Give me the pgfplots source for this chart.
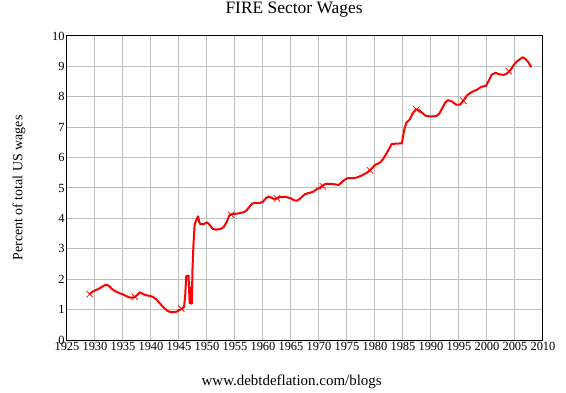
\documentclass[border=0pt]{standalone}
\usepackage{pgfplots}
\pgfplotsset{compat=1.18}
\usepackage{fontspec}
\setmainfont{Liberation Serif}
\begin{document}
\begin{tikzpicture}
\useasboundingbox (-67bp,-53bp) rectangle (499bp,340bp);
\begin{axis}[
  at={(0,0)}, anchor=south west,
  scale only axis, width=476bp, height=304bp,
  xmin=1925, xmax=2010, ymin=0, ymax=10,
  xtick={1925,1930,...,2010}, ytick={0,1,...,10},
  xticklabel style={/pgf/number format/1000 sep={}, font=\fontsize{12.5}{12.5}\selectfont},
  yticklabel style={font=\fontsize{12.5}{12.5}\selectfont},
  /pgf/number format/assume math mode=true,
  major tick length=0pt,
  xticklabel shift=-1bp, yticklabel shift=-1bp,
  grid=major, grid style={draw=black!25, line width=1bp},
  axis line style={black, line width=1bp},
  title={FIRE Sector Wages},
  title style={font=\fontsize{17.5}{17.5}\selectfont, at={(axis description cs:0.477,1.066)}, anchor=center},
  ylabel={Percent of total US wages},
  ylabel style={font=\fontsize{14}{14}\selectfont, at={(axis description cs:-0.101,0.5)}, anchor=center},
  xlabel={www.debtdeflation.com/blogs},
  xlabel style={font=\fontsize{15}{15}\selectfont, at={(axis description cs:0.472,-0.138)}, anchor=center},
]
\addplot[red, line width=2bp, line join=round] table {
1929.0 1.50
1929.5 1.58
1930.0 1.63
1930.5 1.67
1931.0 1.72
1931.5 1.78
1932.0 1.82
1932.5 1.78
1933.0 1.68
1933.5 1.62
1934.0 1.57
1934.5 1.53
1935.0 1.50
1935.5 1.45
1936.0 1.41
1936.5 1.39
1937.0 1.41
1937.5 1.47
1938.0 1.57
1938.5 1.52
1939.0 1.48
1939.5 1.46
1940.0 1.44
1940.5 1.40
1941.0 1.33
1941.5 1.22
1942.0 1.12
1942.5 1.03
1943.0 0.95
1943.5 0.92
1944.0 0.92
1944.5 0.93
1945.0 0.98
1945.5 1.03
1945.9 1.08
1946.1 1.45
1946.3 2.10
1946.7 2.12
1946.9 1.22
1947.1 1.20
1947.2 1.75
1947.3 1.20
1947.4 2.30
1947.6 3.20
1947.8 3.80
1948.1 3.95
1948.4 4.07
1948.7 3.82
1949.5 3.82
1950.0 3.87
1950.5 3.78
1951.0 3.66
1951.5 3.63
1952.0 3.64
1952.5 3.66
1953.0 3.72
1953.5 3.88
1954.0 4.10
1954.5 4.14
1955.5 4.16
1956.5 4.20
1957.0 4.25
1957.5 4.36
1958.0 4.48
1958.5 4.51
1959.5 4.51
1960.0 4.55
1960.5 4.66
1961.0 4.72
1961.5 4.68
1962.0 4.64
1962.5 4.66
1963.0 4.70
1964.0 4.71
1965.0 4.66
1965.5 4.60
1966.0 4.58
1966.5 4.63
1967.0 4.72
1967.5 4.80
1968.5 4.85
1969.0 4.88
1969.5 4.95
1970.0 5.00
1970.5 5.05
1971.0 5.12
1971.5 5.14
1972.5 5.13
1973.5 5.10
1974.0 5.18
1974.5 5.26
1975.0 5.32
1976.5 5.33
1977.5 5.40
1978.0 5.45
1978.5 5.50
1979.0 5.57
1979.5 5.65
1980.0 5.76
1980.5 5.80
1981.0 5.85
1981.5 5.97
1982.0 6.12
1982.5 6.28
1983.0 6.45
1984.0 6.46
1984.8 6.47
1985.2 6.90
1985.6 7.15
1986.2 7.25
1986.7 7.45
1987.3 7.58
1987.8 7.57
1988.5 7.46
1989.0 7.38
1990.0 7.35
1991.0 7.37
1991.5 7.45
1992.0 7.62
1992.5 7.80
1993.0 7.89
1993.7 7.85
1994.5 7.74
1995.2 7.74
1995.8 7.88
1996.5 8.06
1997.3 8.16
1998.2 8.23
1999.0 8.33
1999.8 8.36
2000.3 8.52
2000.8 8.72
2001.5 8.79
2002.2 8.74
2003.0 8.72
2003.6 8.77
2004.2 8.88
2004.8 9.05
2005.3 9.16
2005.9 9.24
2006.4 9.30
2006.9 9.24
2007.4 9.13
2007.9 8.97
};
\addplot[only marks, mark=x, mark size=4.5bp, red, mark options={line width=0.7bp}] table {
1929.05 1.51
1937.1 1.42
1945.4 1.03
1954.3 4.12
1962.5 4.66
1970.7 5.06
1979.1 5.58
1987.4 7.58
1995.8 7.87
2003.9 8.84
};
\end{axis}
\end{tikzpicture}
\end{document}
